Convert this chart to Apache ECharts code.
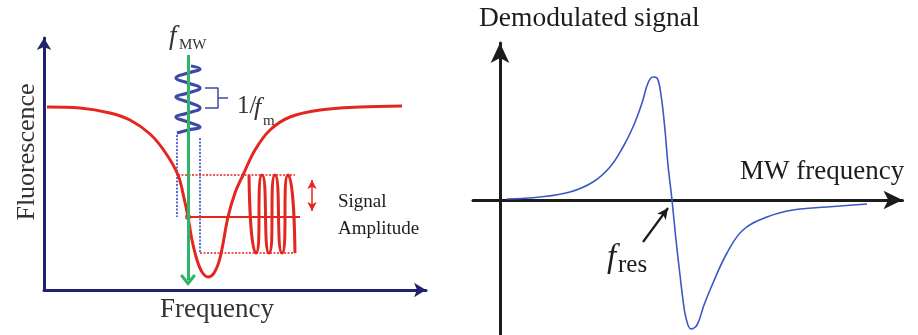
<!DOCTYPE html>
<html>
<head>
<meta charset="utf-8">
<script src="https://cdn.jsdelivr.net/npm/echarts@6/dist/echarts.min.js"></script>
<style>
  html, body { margin: 0; padding: 0; background: #fff; }
  #chart { width: 918px; height: 335px; }
</style>
</head>
<body>
<div id="chart"></div>
<script>
// ---- left panel (units: px from the axes corner) ----
var dipCurve = [[3,183],[36,182],[66,177],[86,170],[106,156],[121,138],[134,115],[140,92],[144,73],[148,50],
    [153,30],[158,18],[164,13],[170,17],[176,32],[184,73],[191,97],[199,115],[211,140],[226,160],[246,173],
    [276,180],[316,183],[358,184]];
var mwCoil = [[147,224],[156,221],[144,217],[132,212],[144,207],[156,202],[144,197],[132,193],[144,188],
    [156,182],[144,177],[132,173],[144,168],[156,163],[144,160],[133,157]];
var periodBracket = [[161,202],[174,202],[174,182],[161,182]];
var bracketStub = [[174,192],[184,192]];
var blueDotLeft = [[133,155],[133,73]];
var blueDotRight = [[156,152],[156,37]];
var redDotTop = [[134,115],[251,115]];
var redDotBottom = [[156,37],[251,37]];
var signalMid = [[144,73],[256,73]];
var workPoint = [[144,73]];
var signalWave = [[205,115],[212,37],[218,115],[225,37],[231,115],[238,37],[244,115],[251,37]];
var mwArrow = [[144,235],[144,10]];
var ampArrow = [[268,110],[268,79]];

// ---- right panel (units: px from the origin) ----
var demodCurve = [[7,1],[40,3],[70,8],[93,18],[110,33],[123,53],[133,73],[142,97],[148,117],[153,123],[157,122],
    [161,105],[165,70],[168,35],[172,0],[176,-40],[180,-75],[183,-100],[186,-118],[191,-129],[197,-125],
    [204,-105],[213,-83],[227,-53],[243,-30],[267,-17],[293,-10],[327,-7],[367,-4]];
var resPointer = [[143,-42],[168,-8]];

var navy = '#23206e', red = '#e3261f', blue = '#3d4aa6', green = '#2fb56a', ink = '#1c1c1c';
var serif = 'Liberation Serif';

function hidden(extra) {
    return Object.assign({
        type: 'value',
        splitLine: {show: false},
        axisTick: {show: false},
        axisLabel: {show: false}
    }, extra);
}

function lineOf(data, color, width, opts) {
    return Object.assign({
        type: 'line',
        xAxisIndex: 0, yAxisIndex: 0,
        data: data,
        symbol: 'none',
        lineStyle: {color: color, width: width}
    }, opts || {});
}

function arrowOf(pts, color, width, symbols, size, grid) {
    return {
        type: 'line',
        xAxisIndex: grid, yAxisIndex: grid,
        data: [],
        markLine: {
            silent: true,
            symbol: symbols,
            symbolSize: size,
            label: {show: false},
            lineStyle: {color: color, width: width, type: 'solid'},
            data: [[{coord: pts[0]}, {coord: pts[1]}]]
        }
    };
}

function txt(x, y, text, size, opts) {
    return Object.assign({
        type: 'text',
        x: x, y: y,
        style: Object.assign({
            text: text,
            font: size + 'px "' + serif + '"',
            fill: ink,
            textAlign: 'left',
            textVerticalAlign: 'middle'
        }, opts && opts.style || {})
    }, opts && opts.rotation ? {rotation: opts.rotation} : {});
}

var chart = echarts.init(document.getElementById('chart'));
chart.setOption({
    animation: false,
    backgroundColor: '#fff',
    grid: [
        {left: 44, top: 38, width: 382, height: 252},
        {left: 473, top: 43, right: 15.5, bottom: 0}
    ],
    xAxis: [
        hidden({gridIndex: 0, min: 0, max: 382,
            axisLine: {lineStyle: {color: navy, width: 3}, symbol: ['none', 'arrow'], symbolSize: [11, 12]}}),
        hidden({gridIndex: 1, min: -27, max: 402.5,
            axisLine: {onZero: true, lineStyle: {color: ink, width: 3}, symbol: ['none', 'arrow'], symbolSize: [14, 19]}})
    ],
    yAxis: [
        hidden({gridIndex: 0, min: 0, max: 252,
            axisLine: {show: true, lineStyle: {color: navy, width: 3}, symbol: ['none', 'arrow'], symbolSize: [11, 12]}}),
        hidden({gridIndex: 1, min: -135, max: 157,
            axisLine: {show: true, onZero: true, lineStyle: {color: ink, width: 3}, symbol: ['none', 'arrow'], symbolSize: [14, 20]}})
    ],
    series: [
        lineOf(blueDotLeft, '#4a5cc8', 1.8, {lineStyle: {color: '#4a5cc8', width: 1.8, type: [2, 1.5]}}),
        lineOf(blueDotRight, '#4a5cc8', 1.8, {lineStyle: {color: '#4a5cc8', width: 1.8, type: [2, 1.5]}}),
        lineOf(redDotTop, red, 1.4, {lineStyle: {color: red, width: 1.4, type: [2, 1.5]}}),
        lineOf(redDotBottom, red, 1.4, {lineStyle: {color: red, width: 1.4, type: [2, 1.5]}}),
        lineOf(signalMid, red, 2),
        lineOf(dipCurve, red, 3, {smooth: 0.35}),
        lineOf(signalWave, red, 3, {smooth: 1}),
        arrowOf(mwArrow, green, 3, ['none', 'path://M10,0 L20,10 L17,12 L10,5 L3,12 L0,10 Z'], [16, 12], 0),
        lineOf(mwCoil, blue, 3.2, {smooth: 0.5}),
        lineOf(periodBracket, blue, 1.5),
        lineOf(bracketStub, blue, 1.5),
        {type: 'scatter', xAxisIndex: 0, yAxisIndex: 0, data: workPoint, symbolSize: 6, itemStyle: {color: red}},
        arrowOf(ampArrow, red, 1.5, ['arrow', 'arrow'], [7, 9], 0),
        lineOf(demodCurve, '#3b58c4', 1.6, {xAxisIndex: 1, yAxisIndex: 1, smooth: 0.4}),
        arrowOf(resPointer, ink, 2.2, ['none', 'arrow'], [8, 11], 1)
    ],
    graphic: [
        txt(27, 152, 'Fluorescence', 26, {rotation: Math.PI / 2, style: {textAlign: 'center', fill: '#333'}}),
        txt(217, 310, 'Frequency', 27, {style: {textAlign: 'center', fill: '#333'}}),
        txt(169, 37, 'f', 27, {style: {font: 'italic 27px "' + serif + '"', fill: '#333'}}),
        txt(179, 45, 'MW', 15, {style: {fill: '#333'}}),
        txt(237, 106, '1/', 25, {style: {fill: '#333'}}),
        txt(254, 108, 'f', 26, {style: {font: 'italic 26px "' + serif + '"', fill: '#333'}}),
        txt(263, 121, 'm', 15, {style: {fill: '#333'}}),
        txt(338, 202, 'Signal', 19),
        txt(338, 229, 'Amplitude', 19),
        txt(479, 19, 'Demodulated signal', 27.5),
        txt(740, 172, 'MW frequency', 27),
        txt(607, 258, 'f', 33, {style: {font: 'italic 33px "' + serif + '"'}}),
        txt(618, 265, 'res', 25)
    ]
});
</script>
</body>
</html>
